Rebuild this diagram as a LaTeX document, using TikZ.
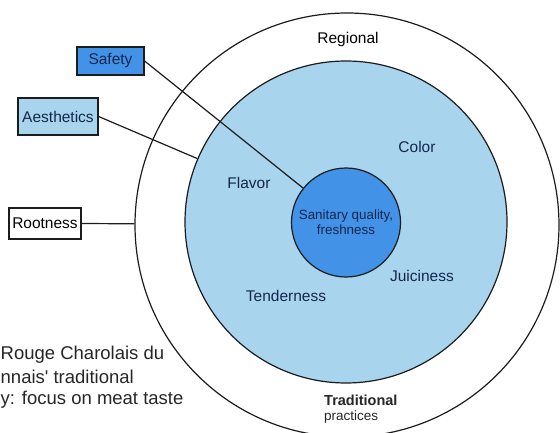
\documentclass[tikz,border=0pt]{standalone}
\usepackage{fontspec}
\setmainfont{Liberation Sans}
\usetikzlibrary{positioning}
\definecolor{ringblue}{RGB}{168,212,238}
\definecolor{coreblue}{RGB}{66,146,232}
\definecolor{navytext}{RGB}{22,38,78}
\definecolor{edgegray}{RGB}{28,28,28}

\tikzset{
  factorbox/.style={draw=edgegray,line width=1.2pt,inner sep=0pt,font=\fontsize{15.5}{18}\selectfont},
  ring/.style={circle,draw=edgegray,line width=1.2pt,inner sep=0pt},
  ringlabel/.style={font=\fontsize{15.5}{18}\selectfont,text=navytext},
  link/.style={draw=edgegray,line width=1.2pt},
  notetext/.style={anchor=west,inner sep=0pt,font=\fontsize{18.5}{22}\selectfont,text=black!85},
}

\begin{document}
\begin{tikzpicture}[x=1pt,y=-1pt]
\useasboundingbox (0,0) rectangle (560,433);
\clip (0,0) rectangle (560,433);
% ---- rings
\node[ring,fill=white,minimum size=424pt] (outer) at (347,225) {};
\node[ring,fill=ringblue,minimum size=322pt] (mid) at (346,222) {};
\node[ring,fill=coreblue,minimum size=109pt,align=center,text=navytext,
      font=\fontsize{13.4}{15}\selectfont] (core) at (346,222.5) {Sanitary quality,\\ freshness};
% ---- ring labels
\node[ringlabel,text=black] (regional) at (348,39) {Regional};
\node[ringlabel] (color) at (417,147) {Color};
\node[ringlabel] (flavor) at (249,183) {Flavor};
\node[ringlabel] (juicy) at (422,276) {Juiciness};
\node[ringlabel] (tender) at (286,296) {Tenderness};
\node[anchor=west,inner sep=0pt,font=\fontsize{14.5}{16}\selectfont\bfseries,text=black!85] (trad) at (324,400) {Traditional};
\node[anchor=west,inner sep=0pt,font=\fontsize{13.5}{16}\selectfont,text=black!85] (pract) at (324,417) {practices};
% ---- factor boxes
\node[factorbox,fill=coreblue,text=navytext,minimum width=67pt,minimum height=28pt] (safety) at (110.5,61) {Safety};
\node[factorbox,fill=ringblue,text=navytext,minimum width=80pt,minimum height=37pt] (aesth) at (58,116.5) {Aesthetics};
\node[factorbox,fill=white,minimum width=72pt,minimum height=31pt] (root) at (45,223.5) {Rootness};
% ---- links
\draw[link] (safety.east) -- (core);
\draw[link] (aesth.east) -- (mid);
\draw[link] (root.east) -- (outer);
% ---- note at the left edge
\node[notetext] (note1) at (0.5,355) {Rouge Charolais du};
\node[notetext] (note2) at (0.5,377) {nnais\textquotesingle\ traditional};
\node[notetext] (note3) at (0.5,400) {y: focus on meat taste};
\end{tikzpicture}
\end{document}
